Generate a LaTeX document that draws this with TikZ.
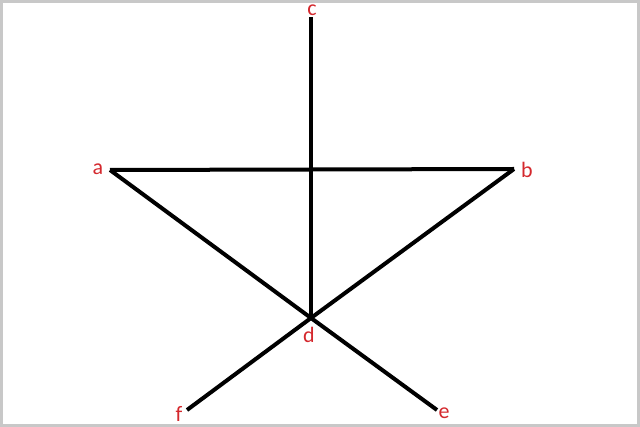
\documentclass[tikz,border=0pt]{standalone}
\usepackage{fontspec}
\setmainfont{Carlito}
\definecolor{lbl}{RGB}{212,40,45}
\definecolor{frame}{RGB}{200,200,200}
\begin{document}
\begin{tikzpicture}[x=1pt,y=-1pt,
  edge/.style={line width=4pt,black},
  lab/.style={text=lbl,font=\fontsize{22}{22}\selectfont,inner sep=0pt}]
\useasboundingbox (0,0) rectangle (640,427);
\draw[frame,line width=3pt] (1.5,1.5) rectangle (638.5,425.5);
\coordinate (a) at (110,170);
\coordinate (b) at (514,169);
\coordinate (c) at (311,17);
\coordinate (d) at (311,318);
\coordinate (e) at (437,410);
\coordinate (f) at (187,410);
\draw[edge] (a) -- (b);
\draw[edge] (a) -- (d);
\draw[edge] (b) -- (d);
\draw[edge] (c) -- (d);
\draw[edge] (d) -- (e);
\draw[edge] (d) -- (f);
\node[lab] (la) at (98,169) {a};
\node[lab] (lb) at (527,170) {b};
\node[lab] (lc) at (312,10) {c};
\node[lab] (ld) at (309,335) {d};
\node[lab] (le) at (444,413) {e};
\node[lab] (lf) at (179,414) {f};
\end{tikzpicture}
\end{document}
